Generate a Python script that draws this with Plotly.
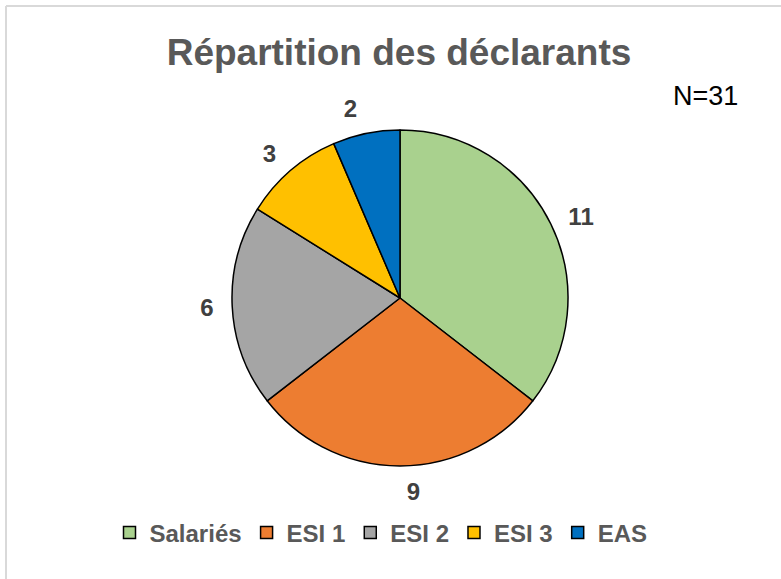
import plotly.graph_objects as go

categories = ["Salariés", "ESI 1", "ESI 2", "ESI 3", "EAS"]
values = [11, 9, 6, 3, 2]
colors = ["#A9D18E", "#ED7D31", "#A5A5A5", "#FFC000", "#0070C0"]
title_text = "Répartition des déclarants"
note_text = "N=31"

W, H = 781, 579
cx, cy, r = 400, 298, 168
r_lab = 180  # invisible pie used only to place the outside value labels a bit further out
FONT = "Liberation Sans, Arial"


def dom(rad):
    return dict(x=[(cx - rad) / W, (cx + rad) / W], y=[(H - cy - rad) / H, (H - cy + rad) / H])


fig = go.Figure()

# label carrier (transparent)
fig.add_trace(go.Pie(
    labels=categories,
    values=values,
    sort=False,
    direction="clockwise",
    rotation=0,
    marker=dict(colors=["rgba(0,0,0,0)"] * len(values), line=dict(width=0)),
    textinfo="value",
    textposition="outside",
    textfont=dict(family=FONT, size=24, color="#404040", weight="bold"),
    domain=dom(r_lab),
    showlegend=False,
    hoverinfo="skip",
))

# visible pie
fig.add_trace(go.Pie(
    labels=categories,
    values=values,
    sort=False,
    direction="clockwise",
    rotation=0,
    marker=dict(colors=colors, line=dict(color="#000000", width=1.5)),
    textinfo="none",
    domain=dom(r),
    hoverinfo="label+value",
))

fig.update_layout(
    width=W, height=H,
    margin=dict(l=0, r=0, t=0, b=0),
    paper_bgcolor="white",
    plot_bgcolor="white",
    font=dict(family=FONT),
    title=dict(text="<b>" + title_text + "</b>", x=399 / W, xanchor="center", y=1 - 52 / H, yanchor="middle",
               font=dict(size=37, color="#595959", family=FONT)),
    legend=dict(orientation="h", x=381 / W, xanchor="center", y=1 - 533 / H, yanchor="middle",
                font=dict(size=24, color="#595959", family=FONT, weight="bold"),
                itemwidth=30, traceorder="normal"),
    annotations=[dict(text=note_text, x=705 / W, y=1 - 96 / H, xref="paper", yref="paper",
                      xanchor="center", yanchor="middle",
                      showarrow=False, font=dict(size=27, color="#000000", family=FONT))],
    shapes=[
        dict(type="line", xref="paper", yref="paper", x0=6 / W, x1=1, y0=1 - 6 / H, y1=1 - 6 / H,
             line=dict(color="#D9D9D9", width=2)),
        dict(type="line", xref="paper", yref="paper", x0=6 / W, x1=6 / W, y0=0, y1=1 - 6 / H,
             line=dict(color="#D9D9D9", width=2)),
    ],
)

fig.write_html("out.html", config={"displayModeBar": False},
               post_script="document.body.style.margin='0';")
